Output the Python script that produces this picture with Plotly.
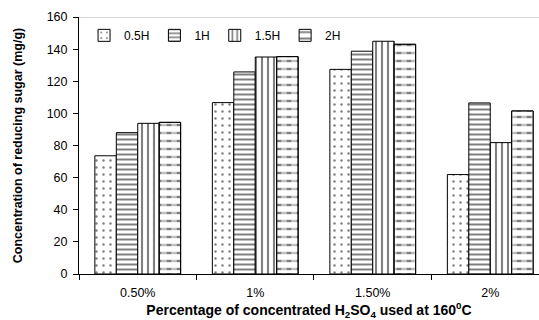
import plotly.graph_objects as go

categories = ["0.50%", "1%", "1.50%", "2%"]
series_names = ["0.5H", "1H", "1.5H", "2H"]
v_05h = [73.6, 106.7, 127.4, 61.9]
v_1h = [88.0, 125.8, 138.7, 106.5]
v_15h = [93.8, 135.1, 144.9, 81.8]
v_2h = [94.4, 135.3, 143.0, 101.5]
y_ticks = [0, 20, 40, 60, 80, 100, 120, 140, 160]

values = [v_05h, v_1h, v_15h, v_2h]
pattern_specs = [
    dict(shape=".", size=7, solidity=0.1),
    dict(shape="-", size=5, solidity=0.4),
    dict(shape="|", size=6, solidity=0.35),
    dict(shape="-", size=8, solidity=0.3),
]

fig = go.Figure()
for i, (name, vals, ps) in enumerate(zip(series_names, values, pattern_specs)):
    fig.add_trace(go.Bar(
        x=categories, y=vals, name=name, offsetgroup=str(i),
        marker=dict(color="white", line=dict(color="black", width=1),
                    pattern=dict(fgcolor="black", bgcolor="white", **ps)),
    ))
# dash effect for 2H: white vertical lines over horizontal lines
fig.add_trace(go.Bar(
    x=categories, y=v_2h, name="2H", offsetgroup="3", showlegend=False,
    marker=dict(color="rgba(255,255,255,0)", line=dict(color="black", width=1),
                pattern=dict(shape="|", fgcolor="white", bgcolor="rgba(255,255,255,0)",
                             size=10, solidity=0.55)),
    hoverinfo="skip",
))

fig.update_layout(
    width=539, height=320,
    margin=dict(l=79, r=0, t=17, b=46, autoexpand=False),
    paper_bgcolor="white", plot_bgcolor="white",
    barmode="group", bargap=0.27, bargroupgap=0,
    font=dict(family="Arial, Liberation Sans, sans-serif", size=12, color="black"),
    showlegend=True,
    legend=dict(orientation="h", x=0.011, y=0.985, xanchor="left", yanchor="top",
                font=dict(size=12), bgcolor="rgba(0,0,0,0)",
                traceorder="normal", itemwidth=30),
    xaxis=dict(
        type="category", range=[-0.5, 3.415], automargin=False,
        showline=True, linecolor="black", linewidth=1,
        ticks="outside", tickson="boundaries", ticklen=5, tickcolor="black",
        ticklabelstandoff=7,
        title=dict(text="<b>Percentage of concentrated H<sub>2</sub>SO<sub>4</sub> used at 160<sup>0</sup>C</b>",
                   font=dict(size=14), standoff=10),
        tickfont=dict(size=12.5),
    ),
    yaxis=dict(
        range=[0, 160], tickvals=y_ticks, automargin=False,
        showline=True, linecolor="black", linewidth=1,
        ticks="outside", ticklen=5, tickcolor="black", showgrid=False,
        zeroline=False, ticklabelstandoff=3,
        title=dict(text="<b>Concentration of reducing sugar (mg/g)</b>",
                   font=dict(size=12.5), standoff=21),
        tickfont=dict(size=12.5),
    ),
    shapes=[dict(type="line", xref="paper", yref="y", x0=0, x1=1, y0=160, y1=160,
                 line=dict(color="#aaaaaa", width=1))],
)

fig.write_html("out.html", config={"displayModeBar": False},
               post_script="document.body.style.margin='0';document.body.style.padding='0';")
